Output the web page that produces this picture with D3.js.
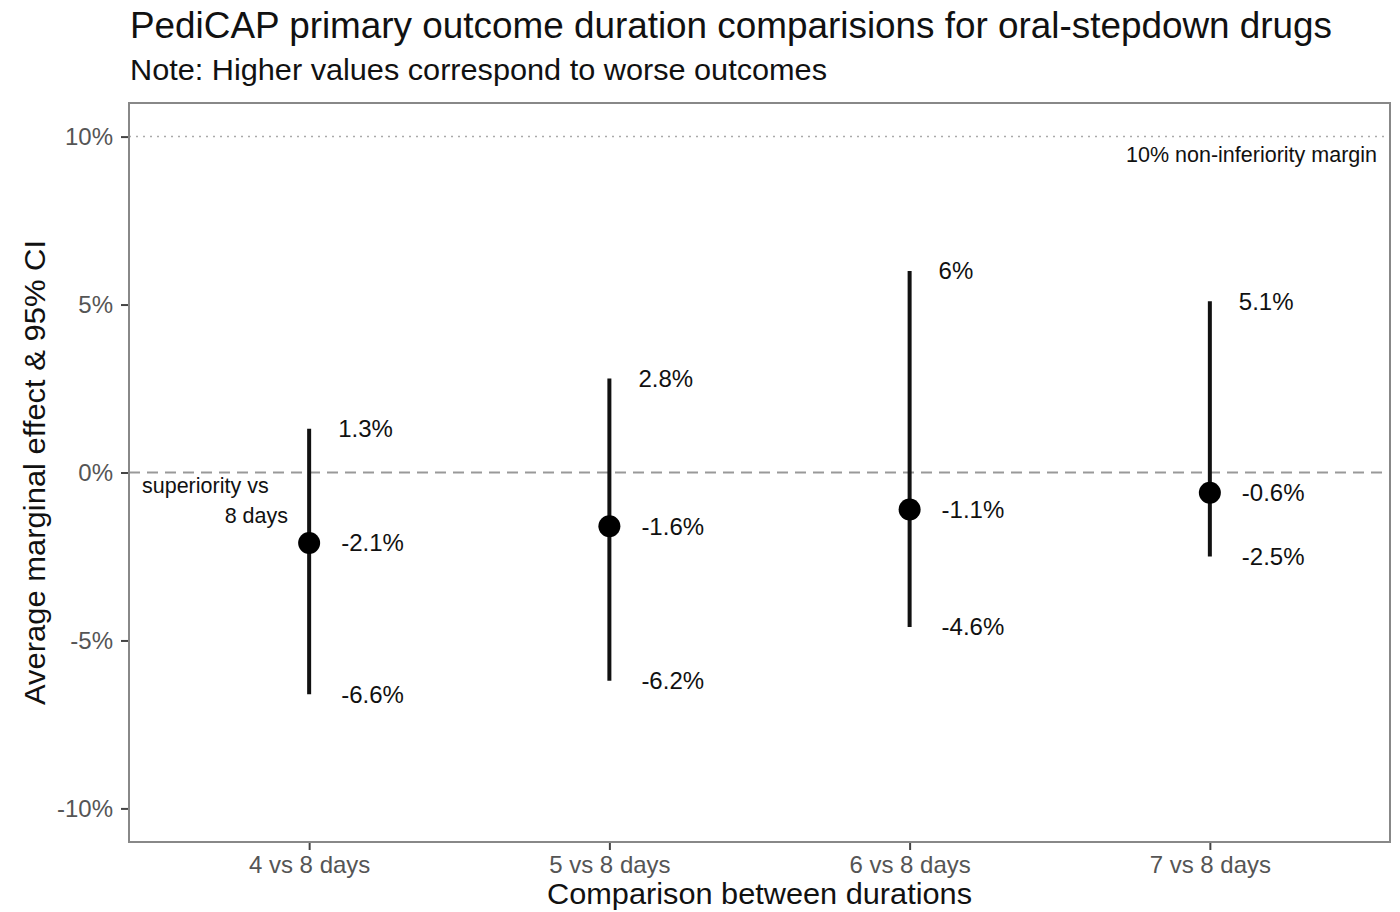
<!DOCTYPE html>
<html>
<head>
<meta charset="utf-8">
<script src="https://cdn.jsdelivr.net/npm/d3@7"></script>
<style>
  body { margin: 0; background: #fff; }
  svg { font-family: "Liberation Sans", Arial, sans-serif; }
</style>
</head>
<body>
<svg id="chart"></svg>
<script>
const width = 1400;
const height = 912;

// comparisons and estimates (in %)
const comparisons = ['4 vs 8 days', '5 vs 8 days', '6 vs 8 days', '7 vs 8 days'];
const estimates = [-2.1, -1.6, -1.1, -0.6];
const lowerCI = [-6.6, -6.2, -4.6, -2.5];
const upperCI = [1.3, 2.8, 6, 5.1];
const yTicks = [-10, -5, 0, 5, 10];

const margin = {top: 103, right: 10, bottom: 70, left: 129};

const svg = d3.select('#chart')
  .attr('width', width)
  .attr('height', height);

const x = d3.scalePoint()
  .domain(comparisons)
  .range([margin.left, width - margin.right])
  .padding(0.6);

// -10..10 plus ggplot-style expansion
const y = d3.scaleLinear()
  .domain([-11, 11])
  .range([height - margin.bottom, margin.top]);

// title
svg.append('text')
  .attr('x', 130).attr('y', 38)
  .attr('font-size', 36)
  .attr('textLength', 1202).attr('lengthAdjust', 'spacingAndGlyphs')
  .attr('fill', '#111')
  .text('PediCAP primary outcome duration comparisions for oral-stepdown drugs');

svg.append('text')
  .attr('x', 130).attr('y', 80)
  .attr('font-size', 29)
  .attr('textLength', 697).attr('lengthAdjust', 'spacingAndGlyphs')
  .attr('fill', '#111')
  .text('Note: Higher values correspond to worse outcomes');

// reference lines
svg.append('line')
  .attr('x1', margin.left).attr('x2', width - margin.right)
  .attr('y1', y(10)).attr('y2', y(10))
  .attr('stroke', '#aaa').attr('stroke-width', 1.5)
  .attr('stroke-dasharray', '2,5');

svg.append('line')
  .attr('x1', margin.left).attr('x2', width - margin.right)
  .attr('y1', y(0)).attr('y2', y(0))
  .attr('stroke', '#999').attr('stroke-width', 2)
  .attr('stroke-dasharray', '11,7');

svg.append('text')
  .attr('x', 1377).attr('y', y(10) + 25)
  .attr('text-anchor', 'end')
  .attr('font-size', 21.5)
  .attr('fill', '#111')
  .text('10% non-inferiority margin');

svg.append('text')
  .attr('x', 142).attr('y', y(0) + 20)
  .attr('font-size', 21.5)
  .attr('fill', '#111')
  .text('superiority vs');
svg.append('text')
  .attr('x', 288).attr('y', y(0) + 50)
  .attr('text-anchor', 'end')
  .attr('font-size', 21.5)
  .attr('fill', '#111')
  .text('8 days');

// axes
const yAxis = svg.append('g')
  .attr('transform', 'translate(' + margin.left + ',0)')
  .call(d3.axisLeft(y).tickValues(yTicks).tickSize(8).tickPadding(8).tickFormat(d => d + '%'));

const xAxis = svg.append('g')
  .attr('transform', 'translate(0,' + (height - margin.bottom) + ')')
  .call(d3.axisBottom(x).tickSize(8).tickPadding(6));

[yAxis, xAxis].forEach(function(ax) {
  ax.select('.domain').remove();
  ax.selectAll('.tick line').attr('stroke', '#444').attr('stroke-width', 2);
  ax.selectAll('.tick text')
    .attr('font-size', 24)
    .attr('font-family', '"Liberation Sans", Arial, sans-serif')
    .attr('fill', '#555');
});

// panel border
svg.append('rect')
  .attr('x', margin.left).attr('y', margin.top)
  .attr('width', width - margin.right - margin.left)
  .attr('height', height - margin.bottom - margin.top)
  .attr('fill', 'none')
  .attr('stroke', '#888').attr('stroke-width', 2);

// axis titles
svg.append('text')
  .attr('transform', 'translate(45,' + y(0) + ') rotate(-90)')
  .attr('text-anchor', 'middle')
  .attr('font-size', 30)
  .attr('textLength', 465).attr('lengthAdjust', 'spacingAndGlyphs')
  .attr('fill', '#111')
  .text('Average marginal effect & 95% CI');

svg.append('text')
  .attr('x', (margin.left + width - margin.right) / 2)
  .attr('y', 904)
  .attr('text-anchor', 'middle')
  .attr('font-size', 29)
  .attr('textLength', 425).attr('lengthAdjust', 'spacingAndGlyphs')
  .attr('fill', '#111')
  .text('Comparison between durations');

// error bars and points
const groups = svg.append('g').selectAll('g')
  .data(comparisons)
  .enter().append('g');

groups.append('line')
  .attr('x1', d => x(d)).attr('x2', d => x(d))
  .attr('y1', (d, i) => y(lowerCI[i]))
  .attr('y2', (d, i) => y(upperCI[i]))
  .attr('stroke', '#111').attr('stroke-width', 4);

groups.append('circle')
  .attr('cx', d => x(d))
  .attr('cy', (d, i) => y(estimates[i]))
  .attr('r', 11)
  .attr('fill', '#000');

const labelFmt = v => v + '%';
[[upperCI, 29], [estimates, 32], [lowerCI, 32]].forEach(function(p) {
  groups.append('text')
    .attr('x', d => x(d) + p[1])
    .attr('y', (d, i) => y(p[0][i]))
    .attr('dy', '0.35em')
    .attr('font-size', 24)
    .attr('fill', '#111')
    .text((d, i) => labelFmt(p[0][i]));
});
</script>
</body>
</html>
